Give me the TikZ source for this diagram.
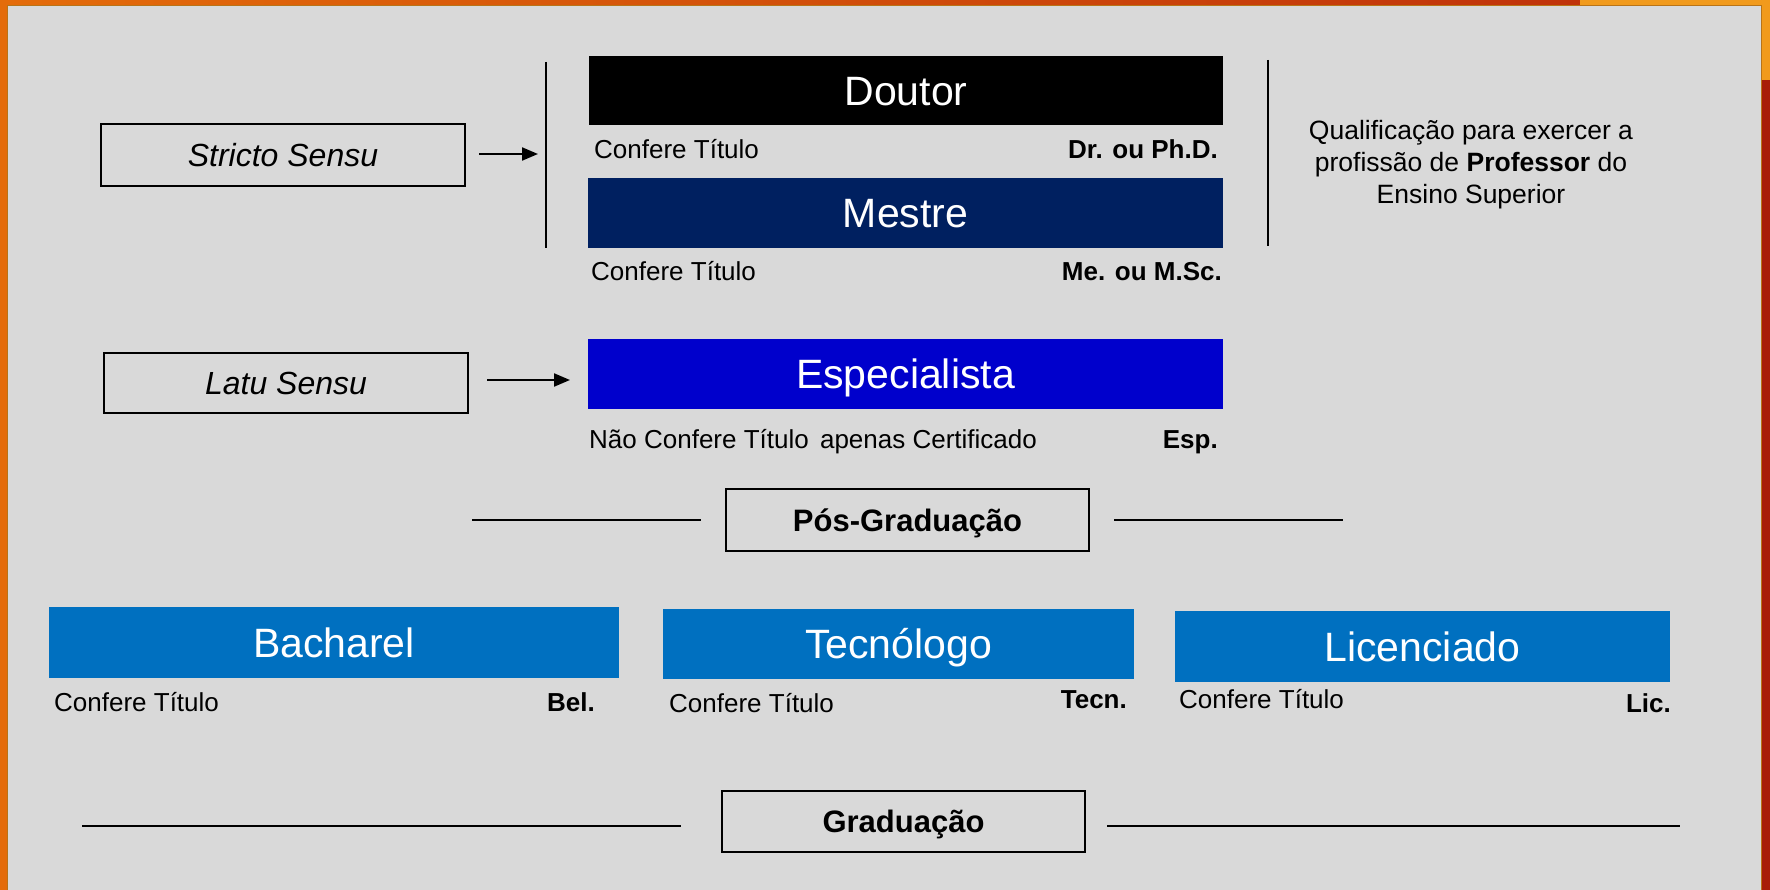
\documentclass[tikz,border=0pt]{standalone}
\usepackage{fontspec}
\setmainfont{Liberation Sans}
\usetikzlibrary{arrows.meta}
\definecolor{bggray}{HTML}{D9D9D9}
\definecolor{frameorange}{HTML}{E46C0A}
\definecolor{framered}{HTML}{C0330A}
\definecolor{framedark}{HTML}{A81E08}
\definecolor{frameyellow}{HTML}{F19A1C}
\definecolor{frameedge}{HTML}{B87418}
\definecolor{navyblue}{HTML}{002060}
\definecolor{purebluebox}{HTML}{0000CC}
\definecolor{midblue}{HTML}{0070C0}
\tikzset{
  bigbox/.style={inner sep=0pt, text height=29.4pt, text depth=0pt, text=white,
    font=\fontsize{41}{48}\selectfont},
  outbox/.style={draw=black, line width=2.4pt, inner sep=0pt, text depth=0pt},
  italabel/.style={text height=22.9pt, font=\fontsize{32}{38}\selectfont\itshape},
  boldlabel/.style={text height=22.2pt, font=\fontsize{31}{37}\selectfont\bfseries},
  smalltxt/.style={inner sep=0pt, anchor=base west, font=\fontsize{26}{31}\selectfont},
  smallbold/.style={inner sep=0pt, anchor=base east, font=\fontsize{26}{31}\selectfont\bfseries},
  sepline/.style={line width=2.4pt, black},
  vline/.style={line width=2.8pt, black},
  arr/.style={line width=2.2pt, -{Triangle[length=16pt,width=13pt]}}
}
\begin{document}
\begin{tikzpicture}[x=1pt,y=-1pt]
\useasboundingbox (0,0) rectangle (1770,890);
% frame
\fill[frameorange] (0,0) rectangle (1770,890);
\shade[left color=frameorange, right color=framered] (0,0) rectangle (1580,6);
\fill[frameyellow] (1580,0) rectangle (1770,80);
\fill[framedark] (1762,80) rectangle (1770,890);
\fill[bggray] (7,5) rectangle (1762,890);
\draw[frameedge, line width=1.2pt] (7.6,890) -- (7.6,5.6) -- (1761.4,5.6) -- (1761.4,890);

% Stricto sensu
\node[outbox, italabel, minimum width=364pt, minimum height=62pt] (stricto) at (283,155) {Stricto Sensu};
\coordinate (vl1t) at (546,62);
\coordinate (vl1b) at (546,248);
\draw[vline] (vl1t) -- (vl1b);
\coordinate (a1e) at (538,154);
\draw[arr] ([xshift=13pt,yshift=1pt]stricto.east) -- (a1e);

\node[bigbox, fill=black, minimum width=634pt, minimum height=69pt] (doutor) at (906,90.5) {Doutor};
\node[smalltxt] (ct1) at (594,159) {Confere Título};
\node[smallbold] (dr) at (1218,159) {Dr. ou Ph.D.};

\node[bigbox, fill=navyblue, minimum width=635pt, minimum height=70pt] (mestre) at (905.5,213) {Mestre};
\node[smalltxt] (ct2) at (591,281) {Confere Título};
\node[smallbold] (me) at (1222,281) {Me. ou M.Sc.};

\coordinate (vl2t) at (1268,60);
\coordinate (vl2b) at (1268,246);
\draw[vline] (vl2t) -- (vl2b);
\node[inner sep=0pt, anchor=north, align=center, font=\fontsize{26.5}{32}\selectfont] (qual) at (1471,120)
  {Qualificação para exercer a\\profissão de \textbf{Professor} do\\Ensino Superior};

% Latu sensu
\node[outbox, italabel, minimum width=364pt, minimum height=60pt] (latu) at (286,383) {Latu Sensu};
\coordinate (a2e) at (570,380);
\draw[arr] ([xshift=18pt,yshift=3pt]latu.east) -- (a2e);
\node[bigbox, fill=purebluebox, minimum width=635pt, minimum height=70pt] (esp) at (905.5,374) {Especialista};
\node[smalltxt] (nct) at (589,449) {Não Confere Título\hspace{4pt} apenas Certificado};
\node[smallbold] (espab) at (1218,449) {Esp.};

% Pos-graduacao
\node[outbox, boldlabel, minimum width=363pt, minimum height=62pt] (pos) at (907.5,520) {Pós-Graduação};
\coordinate (pl1) at (472,520);
\coordinate (pr2) at (1343,520);
\draw[sepline] (pl1) -- ([xshift=-24pt]pos.west);
\draw[sepline] ([xshift=24pt]pos.east) -- (pr2);

% Graduacao level
\node[bigbox, fill=midblue, minimum width=570pt, minimum height=71pt] (bach) at (334,642.5) {Bacharel};
\node[smalltxt] (ct3) at (54,711) {Confere Título};
\node[smallbold] (bel) at (595,711) {Bel.};

\node[bigbox, fill=midblue, minimum width=471pt, minimum height=70pt] (tec) at (898.5,644) {Tecnólogo};
\node[smalltxt] (ct4) at (669,712) {Confere Título};
\node[smallbold] (tecn) at (1127,708) {Tecn.};

\node[bigbox, fill=midblue, minimum width=495pt, minimum height=71pt] (lic) at (1422.5,646.5) {Licenciado};
\node[smalltxt] (ct5) at (1179,708) {Confere Título};
\node[smallbold] (licab) at (1671,712) {Lic.};

\node[outbox, boldlabel, minimum width=363pt, minimum height=61pt] (grad) at (903.5,821.5) {Graduação};
\coordinate (gl1) at (82,826);
\coordinate (gr2) at (1680,826);
\draw[sepline] (gl1) -- ([xshift=-40pt,yshift=-4.5pt]grad.west);
\draw[sepline] ([xshift=21pt,yshift=-4.5pt]grad.east) -- (gr2);
\end{tikzpicture}
\end{document}
